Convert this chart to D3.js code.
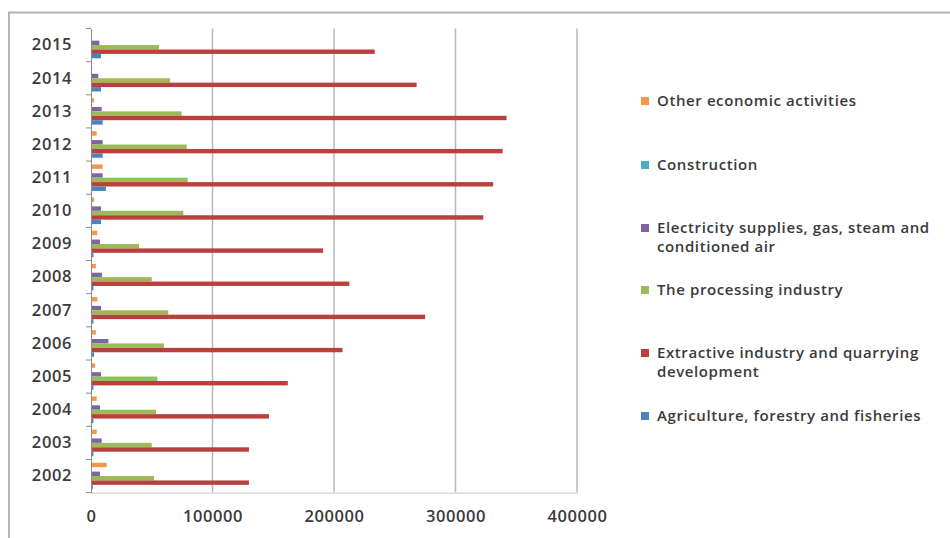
<!DOCTYPE html>
<html>
<head>
<meta charset="utf-8">
<script src="https://cdn.jsdelivr.net/npm/d3@7/dist/d3.min.js"></script>
<style>
  html, body { margin: 0; padding: 0; background: #fff; }
  svg { display: block; }
  text { font-family: "Open Sans", "DejaVu Sans", sans-serif; fill: #3a3a3a; font-weight: 600; }
</style>
</head>
<body>
<svg id="chart" width="950" height="538"></svg>
<script>
// Years shown on the category axis (top to bottom)
const years = [2015, 2014, 2013, 2012, 2011, 2010, 2009, 2008, 2007, 2006, 2005, 2004, 2003, 2002];

// Series, listed in legend order (top to bottom)
const seriesNames = [
  "Other economic activities",
  "Construction",
  "Electricity supplies, gas, steam and conditioned air",
  "The processing industry",
  "Extractive industry and quarrying development",
  "Agriculture, forestry and fisheries"
];
const seriesColors = ["#f79646", "#4bacc6", "#8064a2", "#9bbb59", "#b9403d", "#4f81bd"];

// Values per series, aligned with `years`
const otherValues        = [800, 1000, 2500, 4700, 9600, 2500, 5200, 4000, 5200, 4000, 3300, 4700, 4700, 12900];
const constructionValues = [300, 300, 300, 300, 300, 300, 300, 300, 300, 300, 300, 300, 300, 300];
const electricityValues  = [6900, 6000, 8800, 9600, 9600, 8200, 7400, 9000, 8200, 14300, 8200, 7400, 8800, 7400];
const processingValues   = [56000, 65000, 74600, 78700, 79600, 76000, 39500, 50000, 63600, 60000, 54600, 53500, 50000, 51900];
const extractiveValues   = [233500, 268000, 342000, 338800, 331000, 322900, 191000, 212600, 275000, 207000, 162000, 146500, 130000, 130000];
const agricultureValues  = [8200, 8200, 9600, 9600, 12300, 8200, 2000, 2000, 2000, 2500, 2000, 2000, 2000, 1500];

const seriesValues = [otherValues, constructionValues, electricityValues, processingValues, extractiveValues, agricultureValues];

// Value axis ticks
const xTicks = [0, 100000, 200000, 300000, 400000];

const svg = d3.select("#chart");

// Outer frame (top and left edges)
svg.append("path")
  .attr("d", "M9,538 L9,12.5 L950,12.5")
  .attr("fill", "none")
  .attr("stroke", "#b4b4b4")
  .attr("stroke-width", 2);

const plot = { left: 91, right: 577, top: 28.5, bottom: 492.6 };

const x = d3.scaleLinear().domain([0, 400000]).range([plot.left, plot.right]);
const y = d3.scaleBand().domain(years).range([plot.top, plot.bottom]).padding(0);
const ys = d3.scaleBand().domain(d3.range(seriesNames.length))
  .range([0, y.bandwidth()]).paddingInner(0).paddingOuter(0.75);

// Vertical gridlines
svg.append("g").selectAll("line")
  .data(xTicks.filter(t => t > 0))
  .join("line")
  .attr("x1", d => x(d)).attr("x2", d => x(d))
  .attr("y1", plot.top).attr("y2", plot.bottom)
  .attr("stroke", "#b8b8b8")
  .attr("stroke-width", 1.5);

// Bars
const groups = svg.append("g").selectAll("g")
  .data(years)
  .join("g")
  .attr("transform", d => `translate(0,${y(d)})`);

groups.selectAll("rect")
  .data((yr, i) => seriesValues.map((vals, s) => ({ s, v: vals[i] })))
  .join("rect")
  .attr("x", x(0))
  .attr("y", d => ys(d.s))
  .attr("width", d => x(d.v) - x(0))
  .attr("height", ys.bandwidth())
  .attr("fill", d => seriesColors[d.s]);

// Category axis
const yAxis = d3.axisLeft(y).tickSize(0).tickPadding(19);
const yg = svg.append("g").attr("transform", `translate(${plot.left},0)`).call(yAxis);
yg.select(".domain").attr("stroke", "#8c8c8c").attr("stroke-width", 1);
yg.selectAll("text")
  .style("font-size", "16.5px")
  .style("letter-spacing", "0.6px")
  .attr("fill", "#3a3a3a");

// Tick marks between categories
svg.append("g").selectAll("line")
  .data(years.map(d => y(d)).concat([plot.bottom]))
  .join("line")
  .attr("x1", plot.left - 5).attr("x2", plot.left)
  .attr("y1", d => d).attr("y2", d => d)
  .attr("stroke", "#8c8c8c");

// Value axis
const xAxis = d3.axisBottom(x).tickValues(xTicks).tickFormat(d3.format("d")).tickSize(0).tickPadding(18);
const xg = svg.append("g").attr("transform", `translate(0,${plot.bottom})`).call(xAxis);
xg.select(".domain").attr("stroke", "#c8c8c8");
xg.selectAll("text")
  .style("font-size", "16.5px")
  .style("letter-spacing", "0.6px")
  .attr("fill", "#3a3a3a");

// Legend
const legendRows = [
  { s: 0, y: 101, lines: ["Other economic activities"] },
  { s: 1, y: 165, lines: ["Construction"] },
  { s: 2, y: 228, lines: ["Electricity supplies, gas, steam and", "conditioned air"] },
  { s: 3, y: 290, lines: ["The processing industry"] },
  { s: 4, y: 353, lines: ["Extractive industry and quarrying", "development"] },
  { s: 5, y: 416, lines: ["Agriculture, forestry and fisheries"] }
];
const lg = svg.append("g").selectAll("g").data(legendRows).join("g");
lg.append("rect")
  .attr("x", 641).attr("y", d => d.y - 4)
  .attr("width", 8).attr("height", 8)
  .attr("fill", d => seriesColors[d.s]);
lg.append("text")
  .attr("x", 657).attr("y", d => d.y + 5)
  .style("font-size", "15px")
  .style("letter-spacing", "0.6px")
  .selectAll("tspan")
  .data(d => d.lines)
  .join("tspan")
  .attr("x", 657)
  .attr("dy", (d, i) => i === 0 ? 0 : 19)
  .text(d => d);
</script>
</body>
</html>
